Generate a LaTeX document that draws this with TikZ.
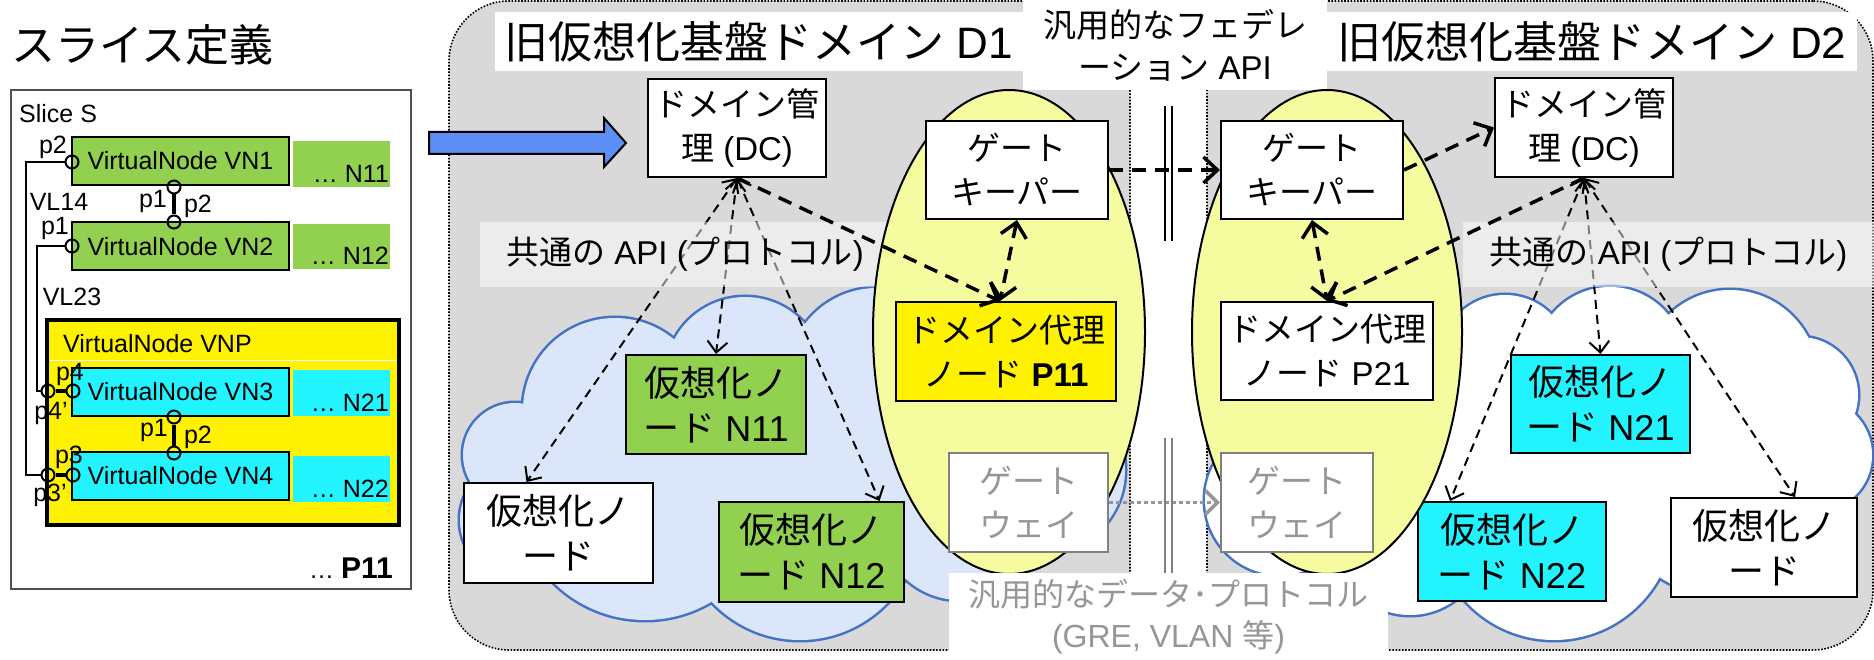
\documentclass[tikz,border=0pt]{standalone}
\usepackage{fontspec}
\setmainfont{Liberation Sans}
\newfontfamily\jp{Noto Sans CJK JP}
\usetikzlibrary{arrows.meta,shapes.geometric,calc}
\newcommand{\jt}[1]{{\jp #1}}
\newcommand{\fsz}[2]{\fontsize{#1}{#2}\selectfont}
\definecolor{domgray}{RGB}{217,217,217}
\definecolor{cloudblue}{RGB}{68,114,196}
\definecolor{cloudfill}{RGB}{220,230,251}
\definecolor{ellfill}{RGB}{245,252,160}
\definecolor{vngreen}{RGB}{146,208,80}
\definecolor{vncyan}{RGB}{34,244,255}
\definecolor{arrowblue}{RGB}{92,142,245}
\definecolor{gwgray}{RGB}{128,128,128}
\definecolor{txtgray}{RGB}{150,150,150}
\definecolor{slicegray}{RGB}{80,80,80}
\begin{document}
\begin{tikzpicture}[x=1pt,y=-1pt,
  domainbox/.style={draw=black, line width=1.6, dash pattern=on 1.6 off 1.6, fill=domgray, rounded corners=60, inner sep=0},
  whitelabel/.style={fill=white, inner sep=0, align=center},
  apilabel/.style={fill=white, fill opacity=0.5, text opacity=1, inner sep=0, align=center, font=\fsz{33}{42}},
  ctrlbox/.style={draw=black, line width=2, fill=white, inner sep=0, align=center, font=\fsz{33}{44}},
  vnode/.style={draw=black, line width=2, inner sep=0, align=center, font=\fsz{36}{45}},
  gwbox/.style={draw=gwgray, line width=2.5, fill=white, inner sep=0, align=center, text=txtgray, font=\fsz{33}{44}},
  ellshape/.style={ellipse, draw=black, line width=2, fill=ellfill, inner sep=0},
  thinarrow/.style={line width=2, dash pattern=on 9 off 6, {Straight Barb[length=11,width=20]}-{Straight Barb[length=11,width=20]}},
  thickarrow/.style={line width=3.5, dash pattern=on 14 off 9, -{Straight Barb[length=14,width=26]}},
  thickboth/.style={line width=3.5, dash pattern=on 14 off 9, {Straight Barb[length=14,width=26]}-{Straight Barb[length=14,width=26]}},
  gwarrow/.style={draw=txtgray, line width=3.5, dash pattern=on 3.5 off 3.5, -{Straight Barb[length=12,width=24]}},
  slicetxt/.style={inner sep=0, font=\fsz{25}{30}},
  vnbox/.style={draw=black, line width=2, inner sep=0, minimum width=217, minimum height=48, font=\fsz{25}{30}},
  physbox/.style={inner sep=0, minimum width=97, minimum height=46},
  port/.style={circle, draw=black, line width=2, minimum size=13, inner sep=0},
  wire/.style={draw=black, line width=2},
  portbar/.style={draw=black, line width=4.5},
  splitmark/.style={line width=1.6},
  puffline/.style={draw=cloudblue, line width=5}
]
\useasboundingbox (0,0) rectangle (1874,660);

% ---------------- slice definition ----------------
\node[anchor=west, inner sep=0, font=\fsz{44}{50}] (STitle) at (11,45) {\jt{スライス定義}};
\node[draw=slicegray, line width=2, minimum width=400, minimum height=499, inner sep=0] (Slice) at (211,339.5) {};
\node[slicetxt, anchor=west] (SliceS) at (19,114) {Slice S};

\node[vnbox, fill=vngreen] (VN1) at (180.5,161) {VirtualNode VN1};
\node[physbox, fill=vngreen] (B11) at (341.5,164) {};
\node[slicetxt, anchor=base east] at (389,183) {… N11};
\node[vnbox, fill=vngreen] (VN2) at (180.5,246.5) {VirtualNode VN2};
\node[physbox, fill=vngreen, minimum height=45] (B12) at (341.5,246.5) {};
\node[slicetxt, anchor=base east] at (389,265) {… N12};

\node[draw=black, line width=4.5, fill=yellow, minimum width=352, minimum height=205, inner sep=0] (VNP) at (223,422.5) {};
\draw[white, line width=1] (50,360) -- (396,360);
\node[slicetxt, anchor=west] at (63,344) {VirtualNode VNP};
\node[vnbox, fill=vncyan] (VN3) at (180.5,392) {VirtualNode VN3};
\node[physbox, fill=vncyan] (B21) at (341.5,393) {};
\node[slicetxt, anchor=base east] at (389,411) {… N21};
\node[vnbox, fill=vncyan] (VN4) at (180.5,476) {VirtualNode VN4};
\node[physbox, fill=vncyan] (B22) at (341.5,479) {};
\node[slicetxt, anchor=base east] at (389,497) {… N22};
\node[anchor=base east, inner sep=0, font=\fsz{25}{30}] (P11lab) at (393,578) {… \fontsize{30}{34}\selectfont\textbf{P11}};

% ports
\node[port] (cP2) at (72,162) {};
\node[port] (cP1) at (72,246) {};
\node[port] (cA) at (174,187) {};
\node[port] (cB) at (174,222) {};
\node[port] (cP4o) at (48,391) {};
\node[port] (cP4) at (73,391) {};
\node[port] (cC) at (174,417) {};
\node[port] (cD) at (174,453) {};
\node[port] (cP3o) at (48,475) {};
\node[port] (cP3) at (73,475) {};

\draw[wire] (cP2.west) -- (26,162) |- (cP3o.west);
\draw[wire] (cP1.west) -- (37,246) |- (cP4o.west);
\draw[portbar] (cA.south) -- (cB.north);
\draw[portbar] (cC.south) -- (cD.north);
\draw[portbar] (cP4o.east) -- (cP4.west);
\draw[portbar] (cP3o.east) -- (cP3.west);

\node[slicetxt] at (53,147) {p2};
\node[slicetxt] at (59,202) {VL14};
\node[slicetxt] at (153,201) {p1};
\node[slicetxt] at (198,206) {p2};
\node[slicetxt] at (55,228) {p1};
\node[slicetxt] at (72,297) {VL23};
\node[slicetxt] at (70,374) {p4};
\node[slicetxt] at (51,413) {p4'};
\node[slicetxt] at (154,430) {p1};
\node[slicetxt] at (198,437) {p2};
\node[slicetxt] at (69,457) {p3};
\node[slicetxt] at (50,495) {p3'};

% ---------------- domains ----------------
\node[domainbox, minimum width=681, minimum height=649] (D1) at (789.5,325.5) {};
\node[domainbox, minimum width=666, minimum height=649] (D2) at (1540,325.5) {};

% blue block arrow
\draw[fill=arrowblue, line width=2] (429,132) -- (604,132) -- (604,118) -- (626,143) -- (604,167) -- (604,154) -- (429,154) -- cycle;

\node[whitelabel, minimum width=528, minimum height=59, font=\fsz{44}{50}] (T1) at (759,41.5) {\jt{旧仮想化基盤ドメイン} D1};
\node[whitelabel, minimum width=530, minimum height=59, font=\fsz{44}{50}] (T2) at (1592,41.5) {\jt{旧仮想化基盤ドメイン} D2};
\node[whitelabel, minimum width=304, minimum height=90, font=\fsz{33}{42}] (FED) at (1175,45) {\jt{汎用的なフェデレ}\\\jt{ーション} API};

% clouds (union of puffs)
\def\cloudA{515/455/52, 615/410/92, 745/377/80, 877/378/90, 1040/470/85, 960/520/80, 800/519/121, 645/490/130, 520/520/60}
\def\cloudB{1505/360/65, 1610/362/75, 1730/378/88, 1800/395/58, 1815/455/57, 1780/530/62, 1700/520/70, 1554/520/120, 1410/540/75, 1280/500/75, 1480/440/60}
\foreach \cx/\cy/\cr in \cloudA { \draw[puffline] (\cx,\cy) circle[radius=\cr]; }
\foreach \cx/\cy/\cr in \cloudA { \fill[cloudfill] (\cx,\cy) circle[radius=\cr]; }
\fill[cloudfill] (515,455) -- (615,410) -- (745,377) -- (877,378) -- (1040,470) -- (960,520) -- (800,560) -- (645,560) -- (520,520) -- cycle;
\foreach \cx/\cy/\cr in \cloudB { \draw[puffline] (\cx,\cy) circle[radius=\cr]; }
\foreach \cx/\cy/\cr in \cloudB { \fill[white] (\cx,\cy) circle[radius=\cr]; }
\fill[white] (1505,360) -- (1610,362) -- (1730,378) -- (1800,395) -- (1815,455) -- (1780,530) -- (1554,560) -- (1410,540) -- (1280,500) -- (1440,400) -- cycle;

% control nodes
\node[ctrlbox, minimum width=178, minimum height=98] (DC1) at (737,128) {\jt{ドメイン管}\\\jt{理} (DC)};
\node[ctrlbox, minimum width=178, minimum height=99] (DC2) at (1584,127.5) {\jt{ドメイン管}\\\jt{理} (DC)};

% virtual nodes
\node[vnode, fill=vngreen, minimum width=180, minimum height=99] (N11) at (716,404.5) {\jt{仮想化ノ}\\\jt{ード} N11};
\node[vnode, fill=white, minimum width=189, minimum height=100] (V1) at (558.5,533) {\jt{仮想化ノ}\\\jt{ード}};
\node[vnode, fill=vngreen, minimum width=185, minimum height=100] (N12) at (811.5,552) {\jt{仮想化ノ}\\\jt{ード} N12};
\node[vnode, fill=vncyan, minimum width=179, minimum height=98] (N21) at (1600.5,404) {\jt{仮想化ノ}\\\jt{ード} N21};
\node[vnode, fill=vncyan, minimum width=188, minimum height=99] (N22) at (1512,551.5) {\jt{仮想化ノ}\\\jt{ード} N22};
\node[vnode, fill=white, minimum width=186, minimum height=99] (V2) at (1764,547.5) {\jt{仮想化ノ}\\\jt{ード}};

% thin API arrows
\draw[thinarrow] (DC1.south) -- ([xshift=-32]V1.north);
\draw[thinarrow] (DC1.south) -- (N11.north);
\draw[thinarrow] (DC1.south) -- ([xshift=68]N12.north);
\draw[thinarrow] (DC2.south) -- ([xshift=-62]N22.north);
\draw[thinarrow] (DC2.south) -- (N21.north);
\draw[thinarrow] (DC2.south) -- ([xshift=31]V2.north);

% common API labels (translucent)
\node[apilabel, minimum width=410, minimum height=65] (API1) at (685,254.5) {\jt{共通の} API (\jt{プロトコル})};
\node[apilabel, minimum width=411, minimum height=65] (API2) at (1668.5,254.5) {\jt{共通の} API (\jt{プロトコル})};

% ellipses
\node[ellshape, minimum width=272, minimum height=484] (E1) at (1009,332) {};
\node[ellshape, minimum width=270, minimum height=484] (E2) at (1327,332) {};

% gateway / proxy nodes
\node[ctrlbox, minimum width=182, minimum height=98] (GK1) at (1017,170) {\jt{ゲート}\\\jt{キーパー}};
\node[ctrlbox, minimum width=182, minimum height=98] (GK2) at (1312,170) {\jt{ゲート}\\\jt{キーパー}};
\node[ctrlbox, fill=yellow, minimum width=220, minimum height=99] (P11) at (1006,351.5) {\jt{ドメイン代理}\\\jt{ノード} \textbf{P11}};
\node[ctrlbox, minimum width=212, minimum height=98] (P21) at (1327,351) {\jt{ドメイン代理}\\\jt{ノード} P21};
\node[gwbox, minimum width=159, minimum height=99] (GW1) at (1028.5,502.5) {\jt{ゲート}\\\jt{ウェイ}};
\node[gwbox, minimum width=152, minimum height=99] (GW2) at (1297,502.5) {\jt{ゲート}\\\jt{ウェイ}};

% thick arrows
\draw[thickarrow] (DC1.south) -- ([xshift=-6]P11.north);
\draw[thickboth] (GK1.south) -- ([xshift=-6]P11.north);
\draw[thickboth] (GK2.south) -- (P21.north);
\draw[thickarrow] (DC2.south) -- (P21.north);
\draw[thickarrow] (GK1.east) -- (GK2.west);
\draw[thickarrow] (GK2.east) -- (DC2.west);
\draw[gwarrow] (GW1.east) -- (GW2.west);

% split marks
\draw[splitmark] (1165,106) -- (1165,241);
\draw[splitmark] (1172,106) -- (1172,241);
\draw[splitmark, gwgray] (1165,438) -- (1165,573);
\draw[splitmark, gwgray] (1172,438) -- (1172,573);

% data protocol label
\node[whitelabel, minimum width=439, minimum height=87, text=txtgray, font=\fsz{32}{41}] (DATA) at (1168.5,616.5) {\jt{汎用的なデータ･プロトコル}\\(GRE, VLAN \jt{等})};
\end{tikzpicture}
\end{document}
